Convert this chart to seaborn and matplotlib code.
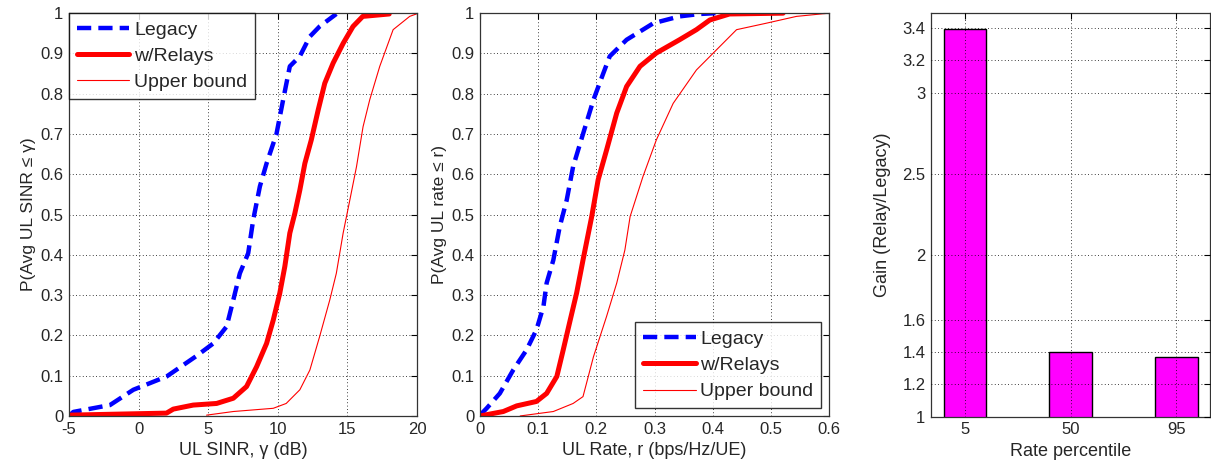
import numpy as np
import pandas as pd
import matplotlib
matplotlib.use("Agg")
import matplotlib.pyplot as plt
import seaborn as sns

# CDF curves: (x, probability) pairs
sinr_legacy_x = [-5.0, -4.69, -2.06, -0.38, 2.01, 4.16, 5.36, 6.32, 6.8, 7.27, 7.87, 8.23, 8.71, 9.19, 9.9, 10.38, 10.86, 11.58, 12.3, 13.0, 14.2]
sinr_legacy_p = [0.0, 0.01, 0.027, 0.065, 0.098, 0.149, 0.18, 0.222, 0.288, 0.354, 0.404, 0.487, 0.57, 0.627, 0.70, 0.785, 0.868, 0.893, 0.942, 0.967, 0.998]

sinr_relay_x = [-5.0, 2.0, 2.49, 3.92, 5.6, 6.8, 7.75, 8.47, 9.19, 9.67, 10.14, 10.5, 10.86, 11.22, 11.58, 11.94, 12.4, 12.9, 13.37, 13.97, 14.69, 15.4, 16.1, 18.0]
sinr_relay_p = [0.002, 0.007, 0.017, 0.027, 0.031, 0.044, 0.073, 0.122, 0.18, 0.238, 0.305, 0.371, 0.454, 0.503, 0.561, 0.627, 0.685, 0.76, 0.826, 0.876, 0.925, 0.967, 0.992, 0.998]

sinr_upper_x = [4.88, 6.8, 9.67, 10.6, 11.58, 12.3, 13.0, 13.73, 14.2, 14.69, 15.17, 15.65, 16.12, 16.6, 17.32, 18.28, 19.47, 19.95]
sinr_upper_p = [0.002, 0.011, 0.019, 0.031, 0.065, 0.114, 0.197, 0.288, 0.354, 0.454, 0.536, 0.619, 0.718, 0.785, 0.868, 0.959, 0.992, 0.998]

rate_legacy_x = [0.0, 0.0114, 0.034, 0.057, 0.080, 0.097, 0.109, 0.1145, 0.126, 0.137, 0.149, 0.160, 0.177, 0.195, 0.212, 0.223, 0.252, 0.298, 0.343, 0.378, 0.406]
rate_legacy_p = [0.002, 0.019, 0.056, 0.114, 0.164, 0.214, 0.272, 0.33, 0.387, 0.47, 0.536, 0.619, 0.70, 0.785, 0.851, 0.893, 0.934, 0.975, 0.992, 0.998, 1.0]

rate_relay_x = [0.0, 0.04, 0.063, 0.097, 0.1145, 0.132, 0.143, 0.155, 0.166, 0.177, 0.192, 0.203, 0.2175, 0.235, 0.252, 0.275, 0.303, 0.343, 0.372, 0.395, 0.429, 0.521]
rate_relay_p = [0.0, 0.011, 0.025, 0.036, 0.056, 0.098, 0.164, 0.238, 0.305, 0.387, 0.495, 0.586, 0.66, 0.752, 0.818, 0.868, 0.901, 0.934, 0.959, 0.983, 0.998, 1.0]

rate_upper_x = [0.069, 0.126, 0.16, 0.177, 0.195, 0.2175, 0.235, 0.249, 0.258, 0.28, 0.303, 0.332, 0.372, 0.401, 0.441, 0.492, 0.544, 0.6]
rate_upper_p = [0.0, 0.011, 0.031, 0.048, 0.147, 0.247, 0.33, 0.412, 0.495, 0.594, 0.685, 0.776, 0.859, 0.901, 0.959, 0.975, 0.992, 1.0]

# gain bars
percentiles = ["5", "50", "95"]
gains = [3.39, 1.40, 1.37]

prob_ticks = [0, 0.1, 0.2, 0.3, 0.4, 0.5, 0.6, 0.7, 0.8, 0.9, 1]
prob_labels = ["0", "0.1", "0.2", "0.3", "0.4", "0.5", "0.6", "0.7", "0.8", "0.9", "1"]
sinr_ticks = [-5, 0, 5, 10, 15, 20]
rate_ticks = [0, 0.1, 0.2, 0.3, 0.4, 0.5, 0.6]
rate_labels = ["0", "0.1", "0.2", "0.3", "0.4", "0.5", "0.6"]
gain_ticks = [1, 1.2, 1.4, 1.6, 2, 2.5, 3, 3.2, 3.4]
gain_labels = ["1", "1.2", "1.4", "1.6", "2", "2.5", "3", "3.2", "3.4"]

sns.set_style("white")
plt.rcParams['font.family'] = ['Liberation Sans', 'DejaVu Sans']

fig = plt.figure(figsize=(12.11, 4.70), dpi=100)
ax1 = fig.add_axes([0.057, 0.115, 0.2874, 0.857])
ax2 = fig.add_axes([0.3964, 0.115, 0.2882, 0.857])
ax3 = fig.add_axes([0.7688, 0.113, 0.2306, 0.859])

dash = (0, (3.2, 1.6))


def style_axes(ax):
    ax.grid(True, color='black', linestyle=(0, (1, 3)), linewidth=0.6)
    ax.tick_params(direction='in', top=True, right=True, labelsize=12, length=4,
                   color='black', width=0.8, pad=4)
    for s in ax.spines.values():
        s.set_color('#333333')
        s.set_linewidth(0.9)
        s.set_visible(True)


def cdf_panel(ax, lx, lp, rx, rp, ux, up):
    sns.lineplot(x=lx, y=lp, sort=False, estimator=None, ax=ax, color='blue', linewidth=3.2, linestyle=dash, label='Legacy')
    sns.lineplot(x=rx, y=rp, sort=False, estimator=None, ax=ax, color='red', linewidth=3.6, label='w/Relays')
    sns.lineplot(x=ux, y=up, sort=False, estimator=None, ax=ax, color='red', linewidth=0.8, label='Upper bound')
    ax.set_ylim(0, 1)
    ax.set_yticks(prob_ticks)
    ax.set_yticklabels(prob_labels)
    style_axes(ax)


def make_legend(ax, loc, pad):
    leg = ax.legend(loc=loc, fontsize=14, handlelength=2.7, handletextpad=0.25,
                    borderaxespad=pad, frameon=True, fancybox=False, edgecolor='black',
                    labelspacing=0.45, borderpad=0.4)
    leg.get_frame().set_linewidth(1.0)
    return leg


cdf_panel(ax1, sinr_legacy_x, sinr_legacy_p, sinr_relay_x, sinr_relay_p, sinr_upper_x, sinr_upper_p)
ax1.set_xlim(-5, 20)
ax1.set_xticks(sinr_ticks)
ax1.set_xticklabels([str(t) for t in sinr_ticks])
ax1.set_xlabel('UL SINR, γ (dB)', fontsize=13)
ax1.set_ylabel('P(Avg UL SINR ≤ γ)', fontsize=12.5, labelpad=3)
make_legend(ax1, 'upper left', 0)

cdf_panel(ax2, rate_legacy_x, rate_legacy_p, rate_relay_x, rate_relay_p, rate_upper_x, rate_upper_p)
ax2.set_xlim(0, 0.6)
ax2.set_xticks(rate_ticks)
ax2.set_xticklabels(rate_labels)
ax2.set_xlabel('UL Rate, r (bps/Hz/UE)', fontsize=13)
ax2.set_ylabel('P(Avg UL rate ≤ r)', fontsize=12.5, labelpad=3)
make_legend(ax2, 'lower right', 0.4)

sns.barplot(x=percentiles, y=gains, ax=ax3, color='magenta', edgecolor='black',
            linewidth=1.0, width=0.4, saturation=1)
ax3.set_xlim(-0.32, 2.32)
ax3.set_ylim(1, 3.49)
ax3.set_yticks(gain_ticks)
ax3.set_yticklabels(gain_labels)
ax3.set_xlabel('Rate percentile', fontsize=13)
ax3.set_ylabel('Gain (Relay/Legacy)', fontsize=13, labelpad=8)
style_axes(ax3)
ax3.set_axisbelow(False)

fig.savefig('out.png', dpi=100)
